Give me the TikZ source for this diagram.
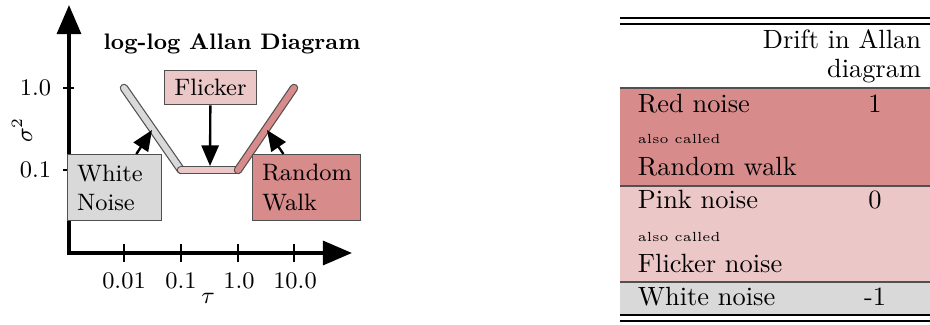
\documentclass[tikz,border=0pt]{standalone}
\usetikzlibrary{arrows.meta}

\definecolor{rednoise}{RGB}{216,139,139}
\definecolor{pinknoise}{RGB}{236,199,199}
\definecolor{whitenoise}{RGB}{217,217,217}
\definecolor{edgegray}{RGB}{80,80,80}

\tikzset{every picture/.style={line width=0.75pt}}
\tikzset{
  axisline/.style={line width=1.5pt, -{Triangle[width=9pt,length=11pt]}},
  pointer/.style={line width=0.9pt, -{Triangle[width=6.5pt,length=7.8pt]}},
  noisebox/.style={draw=edgegray, line width=0.4pt, font=\small, anchor=north west, minimum height=25pt, inner xsep=3.6pt, align=left},
  noisebar/.style={draw=edgegray, line width=0.45pt, double distance=2.3pt, line cap=round},
  hrule/.style={line width=0.4pt},
}

\begin{document}
\begin{tikzpicture}[x=0.3788pt,y=0.3788pt,yscale=-1,xscale=1]
\useasboundingbox (0,0) rectangle (930,325);

%Coordinates of the axes and the curve
\coordinate (o) at (69,255);
\coordinate (ytop) at (69,5);
\coordinate (xleft) at (67.5,253);
\coordinate (xend) at (352,253);
\coordinate (c1) at (124,88);
\coordinate (c2) at (181,170);
\coordinate (c3) at (238,170);
\coordinate (c4) at (294,88);

%Axes
\draw [axisline] (o) -- (ytop);
\draw [axisline] (xleft) -- (xend);
%Ticks
\draw [line width=0.4pt] (124,244) -- (124,262);
\draw [line width=0.4pt] (181,244) -- (181,262);
\draw [line width=0.4pt] (238,244) -- (238,262);
\draw [line width=0.4pt] (294,244) -- (294,262);
\draw [line width=0.4pt] (63,88) -- (74,88);
\draw [line width=0.4pt] (63,170) -- (74,170);

% Text Node
\draw (124,288) node (xa) [anchor=base][inner sep=0.75pt] [font=\small] {0.01};
% Text Node
\draw (181,288) node (xb) [anchor=base][inner sep=0.75pt] [font=\small] {0.1};
% Text Node
\draw (239,288) node (xc) [anchor=base][inner sep=0.75pt] [font=\small] {1.0};
% Text Node
\draw (295,288) node (xd) [anchor=base][inner sep=0.75pt] [font=\small] {10.0};
% Text Node
\draw (208,303) node (tau) [anchor=base][inner sep=0.75pt] [font=\small] {$\tau$};
% Text Node
\draw (54,88) node (ya) [anchor=east][inner sep=0.75pt] [font=\small] {1.0};
% Text Node
\draw (54,170) node (yb) [anchor=east][inner sep=0.75pt] [font=\small] {0.1};
% Text Node
\draw (22,130) node (sig) [rotate=90][inner sep=0.75pt] [font=\small] {$\sigma^2$};
% Text Node
\draw (232,50) node (ttl) [anchor=base][inner sep=0.75pt] [font=\fontsize{8.5}{10}\selectfont\bfseries] {log-log Allan Diagram};

%Curve
\draw [noisebar, double=whitenoise] (c1) -- (c2);
\draw [noisebar, double=pinknoise] (c2) -- (c3);
\draw [noisebar, double=rednoise] (c3) -- (c4);

%Boxes
\draw (67,154) node (wnbox) [noisebox, fill=whitenoise, minimum width=35.6pt, text width=28.4pt] {White\\Noise};
\draw (164,70) node (flbox) [noisebox, fill=pinknoise, minimum width=34.8pt, minimum height=12.9pt, align=center] {Flicker};
\draw (252,154) node (rwbox) [noisebox, fill=rednoise, minimum width=40.8pt, text width=33.6pt] {Random\\Walk};

%Arrows onto the curve
\coordinate (wnhit) at (152,130);
\coordinate (flhit) at (210,166);
\coordinate (rwhit) at (267,130);
\draw [pointer] (wnbox) -- (wnhit);
\draw [pointer] (flbox) -- (flhit);
\draw [pointer] (rwbox) -- (rwhit);

%Table rows
\fill [rednoise] (620,88) rectangle (930,186);
\fill [pinknoise] (620,186) rectangle (930,282);
\fill [whitenoise] (620,282) rectangle (930,315);
%Table rules
\draw [hrule] (620,18) -- (930,18);
\draw [hrule] (620,24) -- (930,24);
\draw [hrule, edgegray] (620,88) -- (930,88);
\draw [hrule, edgegray] (620,186) -- (930,186);
\draw [hrule, edgegray] (620,282) -- (930,282);
\draw [hrule] (620,315) -- (930,315);
\draw [hrule] (620,321) -- (930,321);

% Text Node
\draw (924,48) node (hda) [anchor=base east][inner sep=0.75pt] {Drift in Allan};
% Text Node
\draw (924,78) node (hdb) [anchor=base east][inner sep=0.75pt] {diagram};
% Text Node
\draw (635,112) node (rna) [anchor=base west][inner sep=0.75pt] {Red noise};
% Text Node
\draw (875,112) node (rnv) [anchor=base][inner sep=0.75pt] {1};
% Text Node
\draw (635,143) node (rnb) [anchor=base west][inner sep=0.75pt] [font=\tiny] {also called};
% Text Node
\draw (635,176) node (rnc) [anchor=base west][inner sep=0.75pt] {Random walk};
% Text Node
\draw (635,208) node (pna) [anchor=base west][inner sep=0.75pt] {Pink noise};
% Text Node
\draw (875,208) node (pnv) [anchor=base][inner sep=0.75pt] {0};
% Text Node
\draw (635,241) node (pnb) [anchor=base west][inner sep=0.75pt] [font=\tiny] {also called};
% Text Node
\draw (635,272) node (pnc) [anchor=base west][inner sep=0.75pt] {Flicker noise};
% Text Node
\draw (635,305) node (wna) [anchor=base west][inner sep=0.75pt] {White noise};
% Text Node
\draw (875,305) node (wnv) [anchor=base][inner sep=0.75pt] {-1};

\end{tikzpicture}
\end{document}
